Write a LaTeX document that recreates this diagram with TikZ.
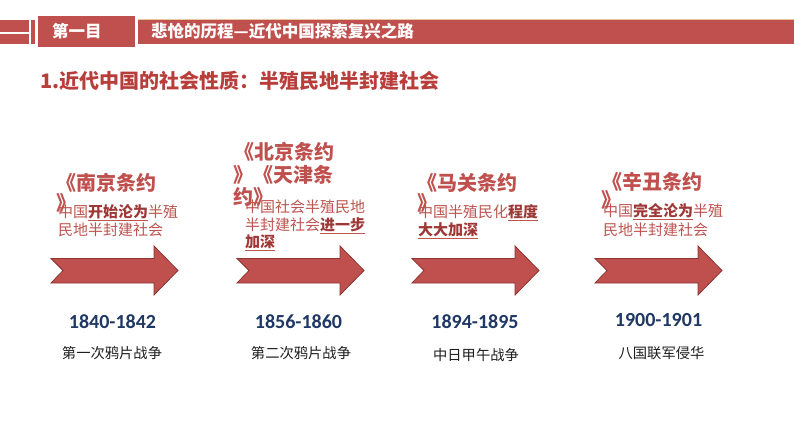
\documentclass[tikz,border=0pt]{standalone}
\usepackage{fontspec}
\setmainfont{Noto Sans CJK SC}
\newfontfamily\yearfont{Carlito}
\definecolor{bandred}{RGB}{192,80,77}
\definecolor{titlered}{RGB}{184,62,60}
\definecolor{descred}{RGB}{190,84,80}
\definecolor{darkred}{RGB}{158,56,54}
\definecolor{arrowedge}{RGB}{140,52,50}
\definecolor{navy}{RGB}{31,56,100}
\definecolor{evtgray}{RGB}{30,30,30}
\newcommand{\ulb}[1]{\underline{\textbf{\color{darkred}#1}}}
\begin{document}
\begin{tikzpicture}[x=1pt,y=-1pt,
  hdr/.style={inner sep=0pt,anchor=west,text=white,font=\fontsize{16.5}{18}\selectfont\bfseries},
  ttl/.style={inner sep=0pt,anchor=west,text=bandred,font=\fontsize{20}{22}\selectfont\bfseries},
  desc/.style={inner sep=0pt,anchor=west,text=descred,font=\fontsize{15}{17}\selectfont},
  yr/.style={inner sep=0pt,text=navy,font=\fontsize{20}{22}\selectfont\yearfont\bfseries},
  evt/.style={inner sep=0pt,text=evtgray,font=\fontsize{14.3}{16}\selectfont},
  blk/.style={fill=bandred,draw=arrowedge,line width=0.8pt,line join=miter}]
\useasboundingbox[fill=white] (0,0) rectangle (794,447);
% header
\fill[bandred] (0,20) rectangle (29,44);
\draw[white,line width=1.2pt] (0,33) -- (29,33);
\fill[bandred] (31,20) rectangle (34.5,44);
\fill[bandred] (38,15.5) rectangle (135,46.5);
\fill[bandred] (138,19.5) rectangle (794,43.5);
\draw[color={rgb,255:red,230;green,200;blue,160},line width=0.6pt] (138,19.5) -- (794,19.5);
\node[hdr] (h1) at (52,31.5) {第一目};
\node[hdr] (h2) at (151,31.5) {悲怆的历程—近代中国探索复兴之路};
% main title
\node[inner sep=0pt,anchor=west,text=titlered,font=\fontsize{20}{22}\selectfont\bfseries] (main) at (40,81) {1.近代中国的社会性质：半殖民地半封建社会};
% arrows
\foreach \t in {51,237,412,595}{
  \draw[blk] (\t,258.5) -- (\t+103,258.5) -- (\t+103,246) -- (\t+127,270.5) -- (\t+103,295) -- (\t+103,283) -- (\t,283) -- (\t+12,270.5) -- cycle;
}
% block 1
\node[ttl] (t1a) at (56,183) {《南京条约};
\node[ttl] (t1b) at (56,203) {》};
\node[desc] (d1a) at (58,213) {中国\ulb{开始沦为}半殖};
\node[desc] (d1b) at (58,230) {民地半封建社会};
% block 2
\node[ttl] (t2a) at (234,152) {《北京条约};
\node[ttl] (t2b) at (233,174.5) {》《天津条};
\node[ttl] (t2c) at (233,197) {约》};
\node[desc] (d2a) at (245,207) {中国社会半殖民地};
\node[desc] (d2b) at (245,225.5) {半封建社会\ulb{进一步}};
\node[desc] (d2c) at (245,243) {\ulb{加深}};
% block 3
\node[ttl] (t3a) at (417,183) {《马关条约};
\node[ttl] (t3b) at (417,203) {》};
\node[desc] (d3a) at (418,213) {中国半殖民化\ulb{程度}};
\node[desc] (d3b) at (418,231) {\ulb{大大加深}};
% block 4
\node[ttl] (t4a) at (602,182) {《辛丑条约};
\node[ttl] (t4b) at (601,200) {》};
\node[desc] (d4a) at (603,212) {中国\ulb{完全沦为}半殖};
\node[desc] (d4b) at (603,230) {民地半封建社会};
% years and events
\node[yr] (y1) at (112.5,322) {1840-1842};
\node[yr] (y2) at (298.5,322) {1856-1860};
\node[yr] (y3) at (475,322) {1894-1895};
\node[yr] (y4) at (658.5,320) {1900-1901};
\node[evt] (e1) at (112,353) {第一次鸦片战争};
\node[evt] (e2) at (301,353) {第二次鸦片战争};
\node[evt] (e3) at (476,355) {中日甲午战争};
\node[evt] (e4) at (661.5,353) {八国联军侵华};
\end{tikzpicture}
\end{document}
